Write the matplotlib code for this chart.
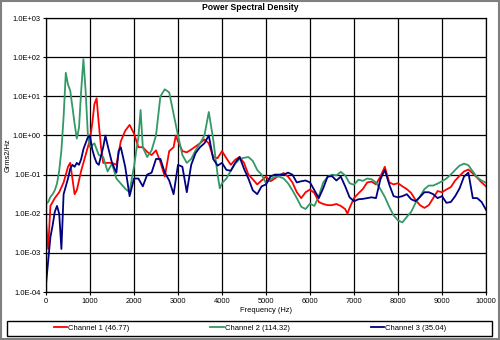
import numpy as np
import matplotlib
matplotlib.use('Agg')
import matplotlib.pyplot as plt
from matplotlib.patches import Rectangle

# PSD readings, (frequency Hz, log10 Grms2/Hz)
ch1 = [(0, -2.2), (50, -2.9), (100, -1.8), (200, -1.6), (300, -1.45), (400, -1.2), (500, -0.8),
       (550, -0.7), (600, -1.1), (650, -1.5), (700, -1.4), (800, -0.9), (900, -0.5), (1000, -0.1),
       (1050, 0.3), (1100, 0.8), (1150, 0.95), (1200, 0.3), (1250, -0.3), (1300, -0.7), (1400, -0.7),
       (1500, -0.7), (1600, -0.75), (1700, -0.15), (1800, 0.12), (1900, 0.27), (2000, 0.05),
       (2100, -0.3), (2200, -0.3), (2300, -0.42), (2400, -0.5), (2500, -0.38), (2600, -0.68),
       (2700, -1.05), (2800, -0.4), (2900, -0.3), (2950, 0.0), (3000, -0.15), (3100, -0.4),
       (3200, -0.43), (3300, -0.36), (3400, -0.28), (3500, -0.2), (3600, -0.1), (3700, -0.2),
       (3800, -0.55), (3900, -0.58), (4000, -0.4), (4100, -0.58), (4200, -0.75), (4300, -0.62),
       (4400, -0.55), (4500, -0.7), (4600, -1.0), (4700, -1.12), (4800, -1.25), (4900, -1.15),
       (5000, -1.05), (5100, -1.17), (5200, -1.1), (5300, -1.02), (5400, -0.96), (5500, -1.05),
       (5600, -1.2), (5700, -1.45), (5800, -1.6), (5900, -1.45), (6000, -1.38), (6100, -1.47),
       (6200, -1.7), (6300, -1.75), (6400, -1.78), (6500, -1.78), (6600, -1.75), (6700, -1.8),
       (6800, -1.88), (6850, -2.0), (6900, -1.85), (7000, -1.6), (7100, -1.48), (7200, -1.37),
       (7300, -1.2), (7400, -1.18), (7500, -1.25), (7600, -1.05), (7700, -0.8), (7800, -1.2),
       (7900, -1.25), (8000, -1.22), (8100, -1.3), (8200, -1.37), (8300, -1.47), (8400, -1.65),
       (8500, -1.78), (8600, -1.85), (8700, -1.78), (8800, -1.6), (8900, -1.42), (9000, -1.45),
       (9100, -1.38), (9200, -1.32), (9300, -1.15), (9400, -1.03), (9500, -0.92), (9600, -0.87),
       (9700, -0.97), (9800, -1.08), (9900, -1.2), (10000, -1.3)]

ch2 = [(0, -1.74), (50, -1.7), (100, -1.57), (150, -1.5), (200, -1.4), (250, -1.23), (300, -0.9),
       (350, -0.38), (400, 0.47), (450, 1.6), (500, 1.3), (550, 1.15), (600, 0.73), (650, 0.3),
       (700, -0.08), (750, 0.2), (800, 1.15), (850, 1.95), (900, 1.15), (950, 0.05), (1000, -0.3),
       (1100, -0.2), (1200, -0.5), (1300, -0.55), (1400, -0.92), (1500, -0.72), (1600, -1.1),
       (1700, -1.23), (1800, -1.36), (1900, -1.45), (1950, -1.1), (2000, -0.8), (2050, -0.4),
       (2100, -0.05), (2150, 0.65), (2200, -0.3), (2300, -0.55), (2400, -0.38), (2500, 0.0),
       (2600, 1.0), (2700, 1.18), (2800, 1.1), (2900, 0.55), (3000, 0.0), (3100, -0.5), (3200, -0.7),
       (3300, -0.6), (3400, -0.38), (3500, -0.2), (3600, 0.0), (3700, 0.6), (3800, -0.1),
       (3900, -1.0), (3950, -1.35), (4000, -1.22), (4100, -1.1), (4200, -0.9), (4300, -0.72),
       (4400, -0.6), (4500, -0.57), (4600, -0.55), (4700, -0.65), (4800, -0.88), (4900, -1.0),
       (5000, -1.22), (5100, -1.12), (5200, -1.06), (5300, -1.05), (5400, -1.1), (5500, -1.22),
       (5600, -1.4), (5700, -1.6), (5800, -1.82), (5900, -1.88), (6000, -1.74), (6100, -1.8),
       (6200, -1.55), (6300, -1.2), (6400, -1.06), (6500, -1.0), (6600, -1.02), (6700, -0.93),
       (6800, -1.02), (6900, -1.22), (7000, -1.26), (7100, -1.13), (7200, -1.16), (7300, -1.1),
       (7400, -1.12), (7500, -1.2), (7600, -1.37), (7700, -1.57), (7800, -1.82), (7900, -2.04),
       (8000, -2.17), (8100, -2.22), (8200, -2.08), (8300, -1.95), (8400, -1.72), (8500, -1.56),
       (8600, -1.37), (8700, -1.28), (8800, -1.28), (8900, -1.23), (9000, -1.17), (9100, -1.1),
       (9200, -1.0), (9300, -0.88), (9400, -0.77), (9500, -0.72), (9600, -0.76), (9700, -0.92),
       (9800, -1.07), (9900, -1.15), (10000, -1.21)]

ch3 = [(0, -3.8), (50, -3.2), (100, -2.6), (150, -2.3), (200, -1.95), (250, -1.8), (300, -2.0),
       (350, -2.9), (400, -1.5), (450, -1.3), (500, -1.1), (550, -0.85), (600, -0.75), (650, -0.8),
       (700, -0.7), (750, -0.75), (800, -0.6), (850, -0.35), (900, -0.2), (950, -0.05), (1000, 0.0),
       (1050, -0.35), (1100, -0.55), (1150, -0.7), (1200, -0.75), (1300, -0.3), (1350, 0.0),
       (1400, -0.25), (1500, -0.7), (1600, -0.95), (1650, -0.4), (1700, -0.3), (1800, -0.8),
       (1900, -1.55), (2000, -1.1), (2100, -1.1), (2200, -1.3), (2300, -1.0), (2400, -0.95),
       (2500, -0.6), (2600, -0.6), (2700, -0.95), (2800, -1.15), (2900, -1.5), (3000, -0.75),
       (3100, -0.8), (3200, -1.45), (3300, -0.75), (3400, -0.45), (3500, -0.3), (3600, -0.2),
       (3700, 0.0), (3800, -0.6), (3900, -0.77), (4000, -0.7), (4100, -0.88), (4200, -0.9),
       (4300, -0.7), (4400, -0.55), (4500, -0.85), (4600, -1.1), (4700, -1.4), (4800, -1.5),
       (4900, -1.3), (5000, -1.25), (5100, -1.05), (5200, -1.0), (5300, -1.0), (5400, -1.0),
       (5500, -0.95), (5600, -1.0), (5700, -1.2), (5800, -1.17), (5900, -1.15), (6000, -1.2),
       (6100, -1.4), (6200, -1.6), (6300, -1.35), (6400, -1.05), (6500, -1.04), (6600, -1.15),
       (6700, -1.05), (6800, -1.3), (6900, -1.58), (7000, -1.68), (7100, -1.63), (7200, -1.62),
       (7300, -1.6), (7400, -1.58), (7500, -1.6), (7600, -1.12), (7700, -0.88), (7800, -1.25),
       (7900, -1.55), (8000, -1.58), (8100, -1.55), (8200, -1.5), (8300, -1.63), (8400, -1.68),
       (8500, -1.57), (8600, -1.45), (8700, -1.45), (8800, -1.5), (8900, -1.6), (9000, -1.55),
       (9100, -1.72), (9200, -1.7), (9300, -1.55), (9400, -1.35), (9500, -1.05), (9600, -0.95),
       (9700, -1.6), (9800, -1.6), (9900, -1.7), (10000, -1.9)]

labels = ['Channel 1 (46.77)', 'Channel 2 (114.32)', 'Channel 3 (35.04)']
colors = ['#ff0000', '#339966', '#000080']
x_ticks = [0, 1000, 2000, 3000, 4000, 5000, 6000, 7000, 8000, 9000, 10000]
y_ticks = [1e-4, 1e-3, 1e-2, 1e-1, 1e0, 1e1, 1e2, 1e3]
y_labels = ['1.0E-04', '1.0E-03', '1.0E-02', '1.0E-01', '1.0E+00', '1.0E+01', '1.0E+02', '1.0E+03']

plt.rcParams['font.family'] = ['Liberation Sans', 'DejaVu Sans']
plt.rcParams['font.size'] = 5.4

fig = plt.figure(figsize=(5.0, 3.4), dpi=100)
ax = fig.add_axes([0.092, 0.141, 0.88, 0.806])

lines = []
for data, lab, c in zip([ch1, ch2, ch3], labels, colors):
    hz = np.array([p[0] for p in data])
    val = 10.0 ** np.array([p[1] for p in data])
    ln, = ax.plot(hz, val, color=c, lw=1.3, label=lab)
    lines.append(ln)

ax.set_yscale('log')
ax.set_xlim(0, 10000)
ax.set_ylim(1e-4, 1e3)
ax.set_xticks(x_ticks)
ax.set_xticklabels([str(t) for t in x_ticks])
ax.set_yticks(y_ticks)
ax.set_yticklabels(y_labels)
ax.yaxis.set_minor_locator(matplotlib.ticker.NullLocator())
ax.grid(True, color='black', lw=0.9)
ax.set_axisbelow(True)
for s in ax.spines.values():
    s.set_color('black')
    s.set_linewidth(0.9)
ax.tick_params(length=2, width=0.8, pad=2)

fig.text(0.5, 1 - 8 / 340, 'Power Spectral Density', fontsize=6.2, fontweight='bold',
         ha='center', va='center')
ax.set_xlabel('Frequency (Hz)', labelpad=2)
ax.set_ylabel('Grms2/Hz')
ax.yaxis.set_label_coords(-0.078, 0.5)

# legend strip at the bottom
fig.patches.append(Rectangle((0.014, 0.012), 0.97, 0.044, transform=fig.transFigure,
                             fill=False, ec='black', lw=1.0))
for ln, xc in zip(lines, [0.183, 0.5, 0.817]):
    fig.legend([ln], [ln.get_label()], loc='center', bbox_to_anchor=(xc, 0.034), frameon=False,
               handlelength=1.8, handletextpad=0.1, borderpad=0, fontsize=5.5)

fig.patches.append(Rectangle((0.002, 0.003), 0.996, 0.994, transform=fig.transFigure,
                             fill=False, ec='#808080', lw=1.5))

fig.savefig('out.png', dpi=100)
